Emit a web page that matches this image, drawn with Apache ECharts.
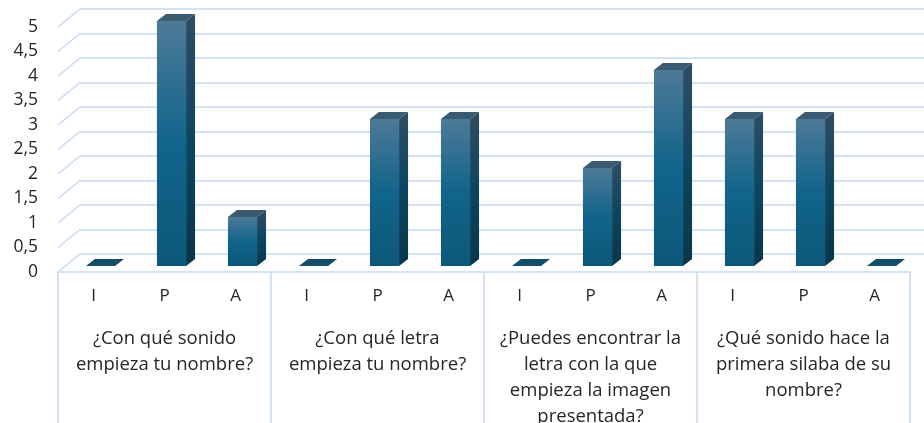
<!DOCTYPE html>
<html>
<head>
<meta charset="utf-8">
<script src="https://cdn.jsdelivr.net/npm/echarts@6/dist/echarts.min.js"></script>
<style>
  html, body { margin: 0; padding: 0; background: #fff; }
  #chart { width: 924px; height: 423px; }
</style>
</head>
<body>
<div id="chart"></div>
<script>
// answer categories (inner axis)
const answers = ["I", "P", "A", "I", "P", "A", "I", "P", "A", "I", "P", "A"];
// question groups (outer axis)
const questions = [
  "¿Con qué sonido\nempieza tu nombre?",
  "¿Con qué letra\nempieza tu nombre?",
  "¿Puedes encontrar la\nletra con la que\nempieza la imagen\npresentada?",
  "¿Qué sonido hace la\nprimera silaba de su\nnombre?"
];
// counts per answer
const values = [0, 5, 1, 0, 3, 3, 0, 2, 4, 3, 3, 0];
// y tick values
const yTicks = [0, 0.5, 1, 1.5, 2, 2.5, 3, 3.5, 4, 4.5, 5];

const gridColor = "#c6daf0";
const depthX = 22, depthY = -18;   // back wall offset
const barDx = 9, barDy = -7;       // bar depth
const barShiftX = 7, barShiftY = -6;

var chartDom = document.getElementById("chart");
var myChart = echarts.init(chartDom);

const fontFam = "'Open Sans', 'Noto Sans', sans-serif";
const textColor = "#262626";

var option = {
  animation: false,
  grid: [
    { left: 58, right: 14, top: 27, bottom: 151, outerBoundsMode: "none", containLabel: false },
    { left: 58 + depthX, right: 14 - depthX, top: 27 + depthY, bottom: 151 - depthY,
      outerBoundsMode: "none", containLabel: false }
  ],
  xAxis: [
    {
      type: "category", gridIndex: 0, data: answers,
      axisLine: { show: true, lineStyle: { color: gridColor, width: 1.5 } },
      axisTick: { show: false },
      axisLabel: { interval: 0, color: textColor, fontSize: 17, fontFamily: fontFam, margin: 16 }
    },
    {
      type: "category", gridIndex: 0, data: questions, position: "bottom",
      axisLine: { show: false },
      axisTick: { show: true, interval: 0, length: 155, lineStyle: { color: gridColor, width: 1.5 } },
      axisLabel: { interval: 0, hideOverlap: false, color: textColor, fontSize: 18.5, lineHeight: 26,
        fontFamily: fontFam, margin: 54, verticalAlign: "top" }
    },
    {
      type: "category", gridIndex: 1, data: answers,
      axisLine: { show: false }, axisTick: { show: false }, axisLabel: { show: false }
    }
  ],
  yAxis: [
    {
      type: "value", gridIndex: 0, min: 0, max: 5, interval: 0.5,
      axisLine: { show: false }, axisTick: { show: false }, splitLine: { show: false },
      axisLabel: {
        color: textColor, fontSize: 17.5, fontFamily: fontFam, margin: 20,
        formatter: v => String(v).replace(".", ",")
      }
    },
    {
      type: "value", gridIndex: 1, min: 0, max: 5, interval: 0.5,
      axisLine: { show: false }, axisTick: { show: false }, axisLabel: { show: false },
      splitLine: { show: true, lineStyle: { color: gridColor, width: 1.5 } }
    }
  ],
  series: [
    {
      // side wall diagonals from front labels to back wall
      type: "custom", xAxisIndex: 0, yAxisIndex: 0, silent: true, z: 1,
      data: yTicks.map(v => [0, v]),
      renderItem: function (params, api) {
        var p = api.coord([0, api.value(1)]);
        var x0 = params.coordSys.x;
        return {
          type: "line",
          shape: { x1: x0, y1: p[1], x2: x0 + depthX, y2: p[1] + depthY },
          style: { stroke: gridColor, lineWidth: 1.5 }
        };
      }
    },
    {
      type: "custom", xAxisIndex: 0, yAxisIndex: 0, z: 5,
      data: values.map((v, i) => [i, v]),
      renderItem: function (params, api) {
        var i = api.value(0), v = api.value(1);
        var base = api.coord([i, 0]);
        var top = api.coord([i, v]);
        var band = api.size([1, 0])[0];
        var w = band * 0.41;
        var x = base[0] + barShiftX - w / 2;
        var yb = base[1] + barShiftY;
        var yt = top[1] + barShiftY;
        var children = [];
        if (v > 0) {
          children.push({
            type: "rect",
            shape: { x: x, y: yt, width: w, height: yb - yt },
            style: {
              fill: new echarts.graphic.LinearGradient(0, 0, 0, 1, [
                { offset: 0, color: "#4d7a98" },
                { offset: 0.5, color: "#11648b" },
                { offset: 1, color: "#0c5879" }
              ])
            }
          });
          children.push({
            type: "polygon",
            shape: { points: [[x + w, yt], [x + w + barDx, yt + barDy], [x + w + barDx, yb + barDy], [x + w, yb]] },
            style: {
              fill: new echarts.graphic.LinearGradient(0, 0, 0, 1, [
                { offset: 0, color: "#2f4d63" },
                { offset: 0.5, color: "#0d4560" },
                { offset: 1, color: "#08364c" }
              ])
            }
          });
          children.push({
            type: "polygon",
            shape: { points: [[x, yt], [x + barDx, yt + barDy], [x + w + barDx, yt + barDy], [x + w, yt]] },
            style: { fill: "#3a5a72" }
          });
        } else {
          children.push({
            type: "polygon",
            shape: { points: [[x, yt], [x + barDx, yt + barDy], [x + w + barDx, yt + barDy], [x + w, yt]] },
            style: { fill: "#124e69" }
          });
        }
        return { type: "group", children: children };
      }
    }
  ]
};
option && myChart.setOption(option);
</script>
</body>
</html>
